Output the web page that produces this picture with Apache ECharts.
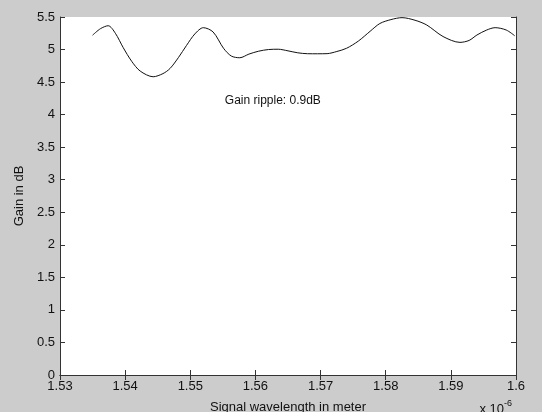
<!DOCTYPE html>
<html>
<head>
<meta charset="utf-8">
<script src="https://cdn.jsdelivr.net/npm/echarts@6/dist/echarts.min.js"></script>
<style>
html,body{margin:0;padding:0;background:#cccccc;}
#c{width:542px;height:412px;}
</style>
</head>
<body>
<div id="c"></div>
<script>
// wavelength in units of 1e-6 m
var wavelength = [1.535, 1.5362, 1.5374, 1.5385, 1.5397, 1.541, 1.5423, 1.5443, 1.5458, 1.5469, 1.5482, 1.5494, 1.5507, 1.552, 1.5535, 1.5551, 1.5563, 1.5576, 1.559, 1.5605, 1.562, 1.5635, 1.565, 1.5665, 1.568, 1.5695, 1.571, 1.5725, 1.574, 1.5758, 1.5776, 1.5791, 1.5808, 1.5825, 1.5845, 1.5863, 1.5888, 1.5914, 1.5928, 1.594, 1.5955, 1.5968, 1.5985, 1.5998];
var gain = [5.22, 5.32, 5.366, 5.25, 5.03, 4.82, 4.67, 4.582, 4.63, 4.71, 4.88, 5.06, 5.24, 5.336, 5.27, 5.02, 4.90, 4.874, 4.93, 4.975, 5.0, 5.005, 4.98, 4.95, 4.936, 4.935, 4.937, 4.97, 5.02, 5.13, 5.28, 5.40, 5.46, 5.49, 5.45, 5.377, 5.20, 5.11, 5.14, 5.223, 5.30, 5.336, 5.30, 5.212];
var annotationText = 'Gain ripple: 0.9dB';
var annotationPos = [1.5553, 4.22];

var chart = echarts.init(document.getElementById('c'), null, {renderer: 'canvas'});
var font = 'Liberation Sans, Arial, sans-serif';
var axisColor = '#333333';
var points = wavelength.map(function (x, i) { return [x, gain[i]]; });

var xCommon = {
  type: 'value', min: 1.53, max: 1.6, interval: 0.01,
  axisLine: {show: true, lineStyle: {color: axisColor, width: 1}},
  axisTick: {show: true, inside: true, length: 5, lineStyle: {color: axisColor}},
  splitLine: {show: false}
};
var yCommon = {
  type: 'value', min: 0, max: 5.5, interval: 0.5,
  axisLine: {show: true, lineStyle: {color: axisColor, width: 1}},
  axisTick: {show: true, inside: true, length: 5, lineStyle: {color: axisColor}},
  splitLine: {show: false}
};

chart.setOption({
  backgroundColor: '#cccccc',
  animation: false,
  grid: {left: 60, top: 17, right: 26, bottom: 37, show: true, backgroundColor: '#ffffff', borderWidth: 0,
    containLabel: false, outerBoundsMode: 'none'},
  xAxis: [
    Object.assign({}, xCommon, {
      position: 'bottom',
      axisLabel: {color: '#111', fontFamily: font, fontSize: 13, margin: 5},
      name: 'Signal wavelength in meter', nameLocation: 'middle', nameGap: 26,
      nameTextStyle: {color: '#111', fontFamily: font, fontSize: 13}
    }),
    Object.assign({}, xCommon, {position: 'top', axisLabel: {show: false}})
  ],
  yAxis: [
    Object.assign({}, yCommon, {
      position: 'left',
      axisLabel: {color: '#111', fontFamily: font, fontSize: 13, margin: 5},
      name: 'Gain in dB', nameLocation: 'middle', nameGap: 32,
      nameTextStyle: {color: '#111', fontFamily: font, fontSize: 13}
    }),
    Object.assign({}, yCommon, {position: 'right', axisLabel: {show: false}})
  ],
  series: [{
    type: 'line',
    data: points,
    smooth: 0.3,
    showSymbol: false,
    symbol: 'none',
    lineStyle: {color: '#111', width: 1},
    markPoint: {
      symbol: 'circle', symbolSize: 0,
      data: [{coord: annotationPos, value: annotationText}],
      label: {show: true, position: 'right', distance: 0, formatter: annotationText,
        color: '#111', fontFamily: font, fontSize: 12}
    }
  }],
  graphic: [{
    type: 'text', right: 30, top: 399,
    style: {
      text: '{a|x 10}{b|-6}',
      rich: {
        a: {fontFamily: font, fontSize: 13, fill: '#111', verticalAlign: 'bottom'},
        b: {fontFamily: font, fontSize: 9, fill: '#111', verticalAlign: 'top', padding: [0,0,8,0]}
      }
    }
  }]
});
</script>
</body>
</html>
